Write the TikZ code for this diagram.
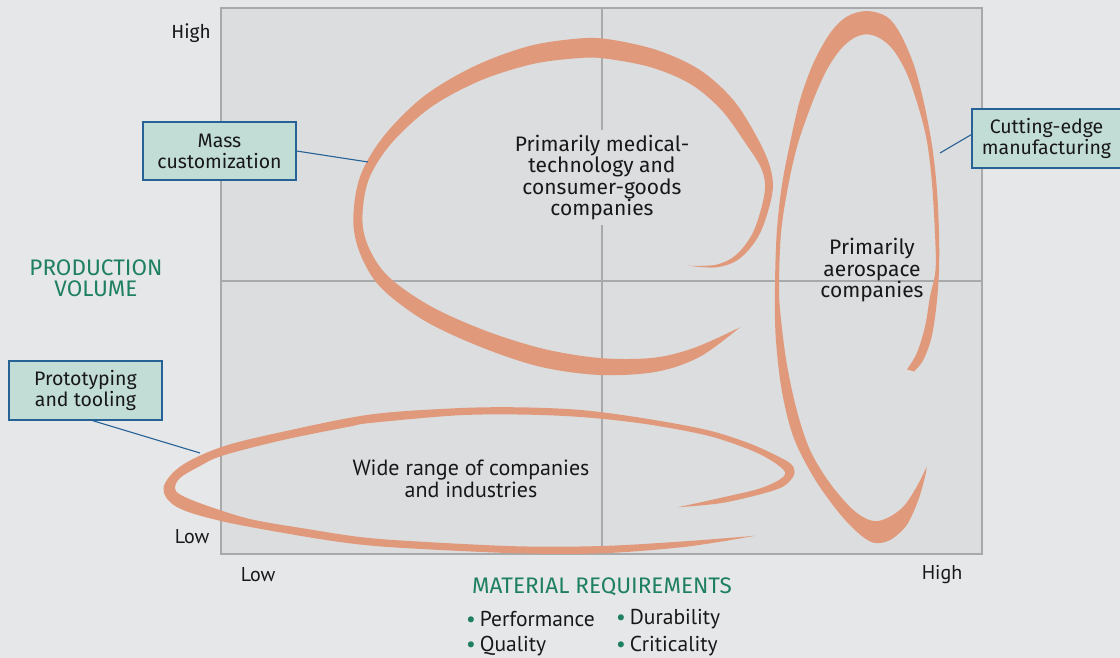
\documentclass[tikz,border=0pt]{standalone}
\usepackage{fontspec}
\setmainfont{Fira Sans}
\newfontfamily\narrowfont{PT Sans}
\usetikzlibrary{calc}

\definecolor{pagebg}{RGB}{230,231,233}
\definecolor{panelbg}{RGB}{220,221,223}
\definecolor{gridc}{RGB}{168,169,171}
\definecolor{brushc}{RGB}{224,153,122}
\definecolor{boxfill}{RGB}{194,221,214}
\definecolor{boxline}{RGB}{38,98,150}
\definecolor{accent}{RGB}{30,128,96}
\definecolor{ink}{RGB}{24,24,24}

\begin{document}
\begin{tikzpicture}[x=1pt,y=-1pt,
  brush/.style={fill=brushc,draw=none},
  gridline/.style={draw=gridc,line width=1.4pt},
  callout/.style={draw=boxline,fill=boxfill,line width=1.2pt,align=center,
    text=ink,inner sep=0pt,font=\fontsize{19.5}{21}\selectfont},
  leader/.style={draw=boxline,line width=1.1pt},
  region/.style={align=center,text=ink,font=\fontsize{21}{21.5}\selectfont},
  widelabel/.style={align=center,text=ink,font=\narrowfont\fontsize{22}{22}\selectfont},
  axislabel/.style={text=ink,font=\narrowfont\fontsize{20}{22}\selectfont},
  axistitle/.style={align=center,text=accent,font=\fontsize{22.5}{21}\selectfont},
  bulletitem/.style={anchor=west,text=ink,inner sep=0pt,font=\narrowfont\fontsize{21.5}{22}\selectfont}
]
\useasboundingbox (0,0) rectangle (1120,658);
\fill[pagebg] (0,0) rectangle (1120,658);

% quadrant panel
\fill[panelbg] (221,8) rectangle (982,554);
\draw[gridline] (602,8) -- (602,554);
\draw[gridline] (221,281) -- (982,281);
\draw[gridline] (221,8) rectangle (982,554);

% region label that sits over the vertical divider
\node[region,fill=panelbg,inner sep=5pt] (medtech) at (602,177.5)
  {Primarily medical-\\technology and\\consumer-goods\\companies};

% brush stroke: medical-technology loop
\fill[brush] plot[smooth,tension=0.55] coordinates {
  (688.3,265.7) (716.7,267.3) (740,258.3) (760,233.3) (772.3,193.3)
  (770,166.7) (756.7,136.7) (733.3,100) (700,70) (656.7,50) (606.7,39)
  (573.3,39) (526.7,46.7) (473.3,66.7) (423.3,96.7) (383.3,136.7)
  (360,176.7) (353.3,220) (360,253.3) (380,286.7) (423.3,320) (480,346.7)
  (540,366.7) (600,375) (656.7,371.7) (700,356.7) (740,327.3)}
  -- plot[smooth,tension=0.55] coordinates {
  (740,327.3) (695.1,347.5) (654.1,357.7) (600.8,358.1) (544.2,349)
  (486.2,331) (431.4,306.6) (389.5,277.7) (369.6,249.4) (362.4,220)
  (368.6,179.8) (391.5,143.2) (431.2,107) (480.1,80.7) (531.5,64.3)
  (575.1,58.4) (604.1,58.4) (651,67.3) (690.8,84.2) (721.5,110.1)
  (745.3,142.9) (761.5,169) (764.7,192.2) (754,230.3) (736.8,254.3)
  (716.3,264.7) (688.3,265.7)} -- cycle;

% brush stroke: aerospace loop
\fill[brush] plot[smooth,tension=0.55] coordinates {
  (914,371.5) (923.3,360) (931.7,336.7) (936.7,303.3) (939,270)
  (939,233.3) (936.7,186.7) (931.7,143.3) (923.3,100) (913.3,63.3)
  (900,33.3) (886.7,16.7) (866.7,11) (846.7,16.7) (830,33.3) (813.3,63.3)
  (800,100) (790,143.3) (781.7,186.7) (776.7,233.3) (775,286.7)
  (775.7,336.7) (781.7,390) (793.3,436.7) (813.3,476.7) (836.7,510)
  (856.7,531.7) (873.3,542.7) (890,540) (906.7,525) (918.3,500)
  (925,476.7) (926.7,466.7)}
  -- plot[smooth,tension=0.55] coordinates {
  (926.7,466.7) (916.7,486.7) (903.3,506.7) (886.7,518.3) (871.7,520.7)
  (853.3,510) (830,483.3) (810,450) (796.7,410) (786.7,363.3)
  (780.7,316.7) (779,286.7) (781,233.3) (788,186.7) (798,143.3)
  (813.3,100) (826.7,70) (840,50) (853.3,38.3) (866.7,34.3) (880,38.3)
  (893.3,50) (906.7,73.3) (918.3,106.7) (926.7,140) (931.7,180)
  (935,233.3) (935.5,270) (930,296.7) (925,326.7) (916.7,353.3)
  (907,369.5)} -- cycle;

% brush stroke: wide low-volume loop
\fill[brush] plot[smooth,tension=0.55] coordinates {
  (677.7,507.3) (719.8,503.3) (757.6,495) (782.9,486.7) (794,475)
  (792,465) (778.7,456.7) (749.2,443.3) (707.1,430) (644,418.3)
  (580.9,410) (517.7,407.3) (454.6,408.3) (370.4,414.5) (286.3,431)
  (223.1,446.5) (181,466) (163.5,488) (176.8,507) (223.1,521.5)
  (307.3,537) (360,544.5) (412.5,548.5) (517.7,553.3) (601.9,553.3)
  (686.1,546.7) (755.5,535.7)}
  -- plot[smooth,tension=0.55] coordinates {
  (755.5,535.7) (686,541.2) (602,546) (517.7,546.3) (412.5,541.2)
  (360,537) (307.3,529) (250,519) (205,505) (181,495) (175,488.3)
  (180,478) (200,466) (223,455.5) (283,440) (350,426.5) (370.4,423)
  (454.6,415.5) (517.7,414.5) (580.9,417) (644,423.8) (707.1,435.5)
  (749.2,449.5) (772,461) (785,472) (779,480) (758,489) (720,498)
  (677.7,507.3)} -- cycle;

% region labels
\node[region] (aero) at (872,270.5) {Primarily\\aerospace\\companies};
\node[widelabel] (wide) at (471,479) {Wide range of companies\\and industries};

% axis labels
\node[axislabel,font=\fontsize{19}{21}\selectfont] (yhigh) at (191,33) {High};
\node[axislabel] (ylow) at (192,537) {Low};
\node[axislabel] (xlow) at (258,575) {Low};
\node[axislabel] (xhigh) at (942,575) {High};
\node[axistitle] (ytitle) at (96,278.5) {PRODUCTION\\VOLUME};
\node[axistitle] (xtitle) at (602,587) {MATERIAL REQUIREMENTS};

% material requirement bullets
\node[bulletitem] (perf) at (466,619) {\textcolor{accent}{\textbullet}\hspace{4pt}Performance};
\node[bulletitem] (dura) at (616,619) {\textcolor{accent}{\textbullet}\hspace{4pt}Durability};
\node[bulletitem] (qual) at (466,646) {\textcolor{accent}{\textbullet}\hspace{4pt}Quality};
\node[bulletitem] (crit) at (616,646) {\textcolor{accent}{\textbullet}\hspace{4pt}Criticality};

% callouts with their leader lines
\node[callout,minimum width=153pt,minimum height=58pt] (mass) at (219.5,151)
  {Mass\\customization};
\node[callout,minimum width=153pt,minimum height=59pt] (proto) at (85.5,390.5)
  {Prototyping\\and tooling};
\node[callout,minimum width=149pt,minimum height=59pt] (cut) at (1046.5,138.5)
  {Cutting-edge\\manufacturing};

\coordinate (massend) at (368,162);
\coordinate (protoend) at (200,453);
\coordinate (cutend) at (940,153);
\draw[leader] (mass.east) -- (massend);
\draw[leader] (proto.-77) -- (protoend);
\draw[leader] (cut.177) -- (cutend);
\end{tikzpicture}
\end{document}
